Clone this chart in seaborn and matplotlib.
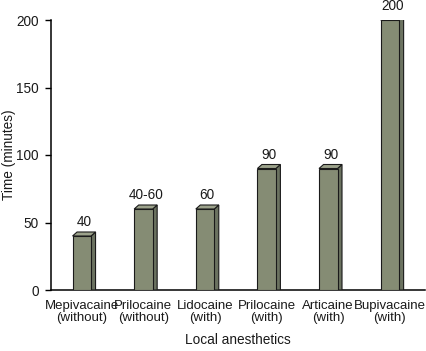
import matplotlib
matplotlib.use("Agg")
import matplotlib.pyplot as plt
from matplotlib.patches import Polygon
import seaborn as sns
import pandas as pd

categories = ["Mepivacaine\n(without)", "Prilocaine\n(without)", "Lidocaine\n(with)",
              "Prilocaine\n(with)", "Articaine\n(with)", "Bupivacaine\n(with)"]
values = [40, 60, 60, 90, 90, 200]
value_labels = ["40", "40-60", "60", "90", "90", "200"]
y_ticks = [0, 50, 100, 150, 200]

sns.set_style("white")
FS = 9.8
XFS = 9.5
plt.rcParams['font.family'] = ['Liberation Sans', 'DejaVu Sans']
plt.rcParams['font.size'] = FS
plt.rcParams['text.color'] = "#1a1a1a"
plt.rcParams['axes.labelcolor'] = "#1a1a1a"
plt.rcParams['xtick.color'] = "#1a1a1a"
plt.rcParams['ytick.color'] = "#1a1a1a"

FRONT = "#858c74"
SIDE = "#6b7260"
TOP = "#9ca28b"
EDGE = "#1a1a1a"

fig = plt.figure(figsize=(4.26, 3.51), dpi=100)
ax = fig.add_axes([51/426, 1-290/351, (425-51)/426, (290-20)/351])

df = pd.DataFrame({"cat": categories, "val": values})
sns.barplot(data=df, x="cat", y="val", color=FRONT, width=0.3, saturation=1,
            edgecolor=EDGE, linewidth=0.8, ax=ax, zorder=3)

ax.set_xlim(-0.5, 5.57)
ax.set_ylim(0, 200)
ax.set_yticks(y_ticks)
ax.set_xlabel("Local anesthetics", fontsize=FS, labelpad=6)
ax.set_ylabel("Time (minutes)", fontsize=FS)
ax.yaxis.set_label_coords(-0.093, 0.5)

for s in ["top", "right"]:
    ax.spines[s].set_visible(False)
for s in ["left", "bottom"]:
    ax.spines[s].set_color("black")
    ax.spines[s].set_linewidth(1.1)
ax.tick_params(axis="y", left=True, direction="out", length=4.5, width=1, color="black",
               pad=4.5, labelsize=FS)
ax.tick_params(axis="x", bottom=False, length=0, pad=7, labelsize=XFS)
for t in ax.get_xticklabels():
    t.set_linespacing(1.05)

# 3D depth offsets (pixels -> data)
fig.canvas.draw()
inv = ax.transData.inverted()
p0 = inv.transform((0, 0))
p1 = inv.transform((4.5, 4.0))
ddx = p1[0] - p0[0]
ddy = p1[1] - p0[1]

for patch, lab in zip(ax.patches, value_labels):
    x0 = patch.get_x()
    w = patch.get_width()
    h = patch.get_height()
    x1 = x0 + w
    side = Polygon([(x1, 0), (x1 + ddx, 0), (x1 + ddx, h + ddy), (x1, h)],
                   closed=True, facecolor=SIDE, edgecolor=EDGE, linewidth=0.8, zorder=2.9)
    top = Polygon([(x0, h), (x0 + ddx, h + ddy), (x1 + ddx, h + ddy), (x1, h)],
                  closed=True, facecolor=TOP, edgecolor=EDGE, linewidth=0.8, zorder=3.1)
    ax.add_patch(side)
    ax.add_patch(top)
    ax.text(x0 + w / 2 + ddx / 2, h + ddy + 2.0, lab, ha="center", va="bottom",
            fontsize=FS, clip_on=False)

fig.savefig("out.png", dpi=100)
